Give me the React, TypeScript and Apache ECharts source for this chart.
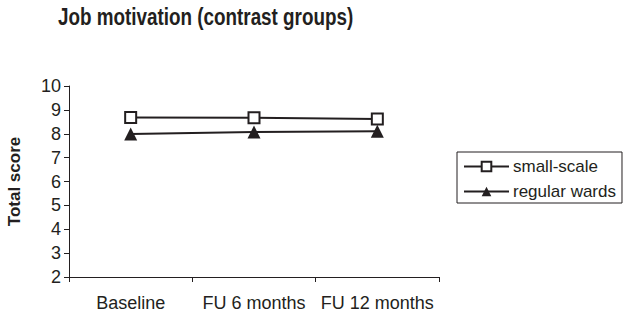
import React, { useEffect, useRef } from "react";
import * as echarts from "echarts";

const titleText = "Job motivation (contrast groups)";
const categories = ["Baseline", "FU 6 months", "FU 12 months"];
const smallScale = [8.68, 8.67, 8.62];
const regularWards = [7.99, 8.07, 8.1];
const seriesNames = ["small-scale", "regular wards"];

export default function App() {
  const ref = useRef<HTMLDivElement>(null);
  useEffect(() => {
    const chart = echarts.init(ref.current!, undefined, { renderer: "svg" });
    const font = "'Liberation Sans', Arial, sans-serif";
    chart.setOption({
      animation: false,
      backgroundColor: "#fff",
      graphic: [
        {
          type: "text",
          x: 58,
          y: 17,
          scaleX: 0.82,
          style: {
            text: titleText,
            fontFamily: "'Liberation Sans', sans-serif",
            fontWeight: "bold",
            fontSize: 23,
            fill: "#231f20",
            textVerticalAlign: "middle",
            verticalAlign: "middle",
          },
        },
      ],
      grid: { left: 69, right: 186, top: 86, bottom: 37, outerBoundsMode: "none", containLabel: false },
      legend: {
        orient: "vertical",
        left: 457,
        top: 152,
        padding: [6, 6, 3, 6],
        itemGap: 8,
        itemWidth: 45,
        itemHeight: 12,
        borderColor: "#231f20",
        borderWidth: 1,
        borderRadius: 0,
        textStyle: { fontFamily: font, fontSize: 17, color: "#231f20", padding: [0, 0, 0, -1] },
        data: seriesNames,
      },
      xAxis: {
        type: "category",
        data: categories,
        boundaryGap: true,
        axisLine: { lineStyle: { color: "#231f20", width: 1 } },
        axisTick: { show: true, alignWithLabel: false, length: 5, lineStyle: { color: "#231f20" } },
        axisLabel: { fontFamily: font, fontSize: 18, color: "#231f20", margin: 17, interval: 0 },
      },
      yAxis: {
        type: "value",
        min: 2,
        max: 10,
        interval: 1,
        name: "Total score",
        nameLocation: "middle",
        nameGap: 46,
        nameTextStyle: { fontFamily: font, fontSize: 17, fontWeight: "bold", color: "#231f20" },
        splitLine: { show: false },
        axisLine: { show: true, lineStyle: { color: "#231f20", width: 1 } },
        axisTick: { show: true, length: 5, lineStyle: { color: "#231f20" } },
        axisLabel: { fontFamily: font, fontSize: 18, color: "#231f20", margin: 8 },
      },
      series: [
        {
          name: seriesNames[0],
          type: "line",
          data: smallScale,
          symbol: "rect",
          symbolSize: 11,
          itemStyle: { color: "#fff", borderColor: "#231f20", borderWidth: 2 },
          lineStyle: { color: "#231f20", width: 2 },
        },
        {
          name: seriesNames[1],
          type: "line",
          data: regularWards,
          symbol: "triangle",
          symbolSize: 13,
          itemStyle: { color: "#231f20", borderColor: "#231f20", borderWidth: 0 },
          lineStyle: { color: "#231f20", width: 2 },
        },
      ],
    });
    return () => chart.dispose();
  }, []);
  return <div ref={ref} style={{ width: 625, height: 314, position: "absolute", left: 0, top: 0 }} />;
}
